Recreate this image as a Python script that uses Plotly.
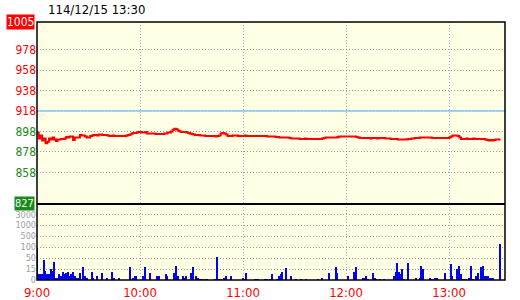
import numpy as np
import plotly.graph_objects as go

# ---------------- data ----------------
title_text = "114/12/15 13:30"
hour_ticks = [0, 60, 120, 180, 240]            # minutes after 9:00
hour_labels = ["9:00", "10:00", "11:00", "12:00", "13:00"]

price_ticks = [978, 958, 938, 918, 898, 878, 858]
price_top = 1005
price_bottom = 827
ref_price = 918

# one value per minute, 9:00 .. 13:30
price = [
    897, 891, 894, 889, 891, 886.5, 888, 891, 890, 892,
    890, 888.5, 890, 890, 890.5, 890.5, 891, 892.5, 892, 893,
    893, 889.5, 892, 892, 892, 894.5, 894, 894, 893, 892,
    892, 893.5, 894, 894.5, 894.5, 894, 895, 895, 894.5, 894.5,
    894.5, 894, 893.5, 893.5, 894, 893.5, 893.5, 893.5, 893.5, 893.5,
    893.5, 893.5, 894, 894.5, 895, 896, 896.5, 896.5, 897, 897.5,
    897.5, 897, 897, 897.5, 896, 896, 896, 896, 896, 895.5,
    895.5, 895.5, 895.5, 895.5, 896, 896, 897, 897, 898, 899.5,
    900.5, 900, 899, 898, 897.5, 897.5, 897.5, 897, 896.5, 896,
    895.5, 895, 894.5, 894.5, 894.5, 894, 894, 894, 893.5, 893.5,
    893.5, 893.5, 893.5, 893.5, 893, 893.5, 894, 896, 896.5, 896,
    895, 893.5, 893.5, 893.5, 894, 894, 894, 893.5, 893.5, 893.5,
    893.5, 894, 893.5, 893.5, 893.5, 893.5, 893.5, 893.5, 893.5, 893.5,
    893.5, 893.5, 893.5, 893.5, 893, 893, 893, 893, 893, 892.5,
    892.5, 892, 892, 892, 892, 892, 892, 891.5, 891, 891,
    891, 891, 891, 890.5, 890.5, 890.5, 891, 890.5, 890.5, 890.5,
    890.5, 890.5, 890.5, 890.5, 890.5, 890.5, 891, 891.5, 892, 892,
    892, 892, 892, 892, 892, 892.5, 893, 893, 893, 893,
    893, 893, 893, 893, 893, 893, 892.5, 892, 891.5, 891.5,
    891.5, 891.5, 891.5, 891.5, 891, 891.5, 891.5, 891.5, 891, 891.5,
    891.5, 891.5, 891.5, 891, 891, 891, 890.5, 890.5, 890.5, 890.5,
    890, 890, 890, 890, 890, 890, 890.5, 890.5, 891, 891,
    891.5, 891.5, 891.5, 892, 892, 892, 892, 892, 892, 892,
    891.5, 891.5, 891.5, 891.5, 891.5, 891.5, 891.5, 891.5, 891.5, 891.5,
    892, 893, 894, 894, 894, 893.5, 892, 890.5, 890.5, 890.5,
    891, 890.5, 890.5, 890.5, 891, 890.5, 890.5, 890.5, 890.5, 890.5,
    890.5, 890, 889.5, 889, 889.5, 889, 889.5, 890, 890, 890,
    890,
]
minutes = list(range(len(price)))

# volume: minute index and lots traded
vol_minute = [
    0, 1, 2, 3, 4, 5, 6, 7, 8, 9, 10, 11, 12, 13, 14, 15, 16, 17, 18, 19,
    20, 21, 22, 23, 24, 25, 27, 28, 29, 32, 33, 35, 38, 41, 44, 45, 48, 54, 56, 57,
    58, 62, 63, 66, 70, 71, 75, 76, 80, 81, 82, 85, 86, 87, 90, 91, 93, 94, 95, 96,
    98, 99, 104, 105, 106, 107, 109, 110, 113, 120, 121, 122, 127, 128, 129, 133, 134, 136, 137, 140,
    141, 142, 143, 145, 148, 151, 154, 157, 164, 166, 170, 174, 175, 181, 185, 186, 190, 191, 192, 193,
    196, 197, 198, 200, 202, 208, 209, 210, 211, 212, 213, 214, 216, 221, 223, 224, 225, 229, 230, 232,
    233, 238, 241, 242, 245, 246, 247, 248, 249, 250, 252, 253, 254, 256, 257, 259, 260, 261, 262, 263,
    264, 265, 266, 270,
]
vol_value = [
    98, 8, 8, 8, 44, 12, 8, 8, 15, 12, 37, 3, 3, 8, 5, 11, 8, 9, 11, 5,
    8, 11, 5, 3, 3, 9, 21, 5, 3, 11, 3, 5, 9, 2, 11, 3, 3, 21, 3, 5,
    5, 5, 21, 10, 5, 5, 8, 5, 9, 26, 5, 6, 3, 5, 10, 21, 5, 2, 1, 1,
    1, 1, 1, 57, 1, 1, 2, 5, 5, 2, 1, 10, 1, 1, 1, 1, 1, 1, 8, 1,
    5, 8, 11, 19, 5, 1, 1, 1, 1, 2, 10, 22, 10, 5, 11, 22, 2, 3, 5, 1,
    10, 3, 1, 1, 1, 5, 11, 35, 11, 8, 15, 1, 35, 2, 3, 25, 15, 3, 1, 2,
    3, 10, 31, 5, 15, 26, 8, 1, 1, 1, 3, 24, 1, 5, 10, 22, 25, 5, 5, 5,
    2, 2, 2, 224,
]
vol_ticks = [0, 15, 50, 100, 500, 1000, 3000]
vol_labels = ["0", "15", "50", "100", "500", "1000", "3000"]

# ---------------- figure ----------------
FONT = "DejaVu Sans Condensed, Liberation Sans Narrow, Liberation Sans, sans-serif"
DOT = "1px,2px"
vol_levels = list(range(len(vol_ticks)))
vol_scaled = np.interp(vol_value, vol_ticks, vol_levels)

split = 76 / 258.0
x_max = 272.6

fig = go.Figure()
fig.add_trace(go.Scatter(
    x=minutes, y=price, mode="lines", line=dict(color="#ff0000", width=2, shape="hv"),
    xaxis="x", yaxis="y", showlegend=False, hoverinfo="skip"))
fig.add_trace(go.Bar(
    x=vol_minute, y=vol_scaled, width=0.8, marker=dict(color="#0000ff", line=dict(width=0)),
    xaxis="x2", yaxis="y2", showlegend=False, hoverinfo="skip"))

def ptxt(v):
    col = "#ff0000" if v >= ref_price else "#1a8a1a"
    return f'<span style="color:{col}">{v}</span>'

fig.update_layout(
    width=520, height=300,
    margin=dict(l=37, r=15, t=22, b=20, autoexpand=False),
    paper_bgcolor="white", plot_bgcolor="#ffffe6",
    bargap=0,
    font=dict(family=FONT, size=12, color="black"),
    xaxis=dict(domain=[0, 1], anchor="y", range=[0, x_max], tickvals=hour_ticks,
               showticklabels=False, ticks="", showgrid=True, gridcolor="#86b8de",
               griddash=DOT, gridwidth=1, zeroline=False, showline=False, automargin=False),
    xaxis2=dict(domain=[0, 1], anchor="y2", range=[0, x_max], tickvals=hour_ticks,
                ticktext=hour_labels, ticks="", showgrid=True, gridcolor="#a4b8bc",
                griddash=DOT, gridwidth=1, zeroline=False, showline=False, automargin=False,
                ticklabelstandoff=3,
                tickfont=dict(family=FONT, size=13, color="#ff0000")),
    yaxis=dict(domain=[split, 1], anchor="x", range=[price_bottom, price_top],
               tickvals=price_ticks, ticktext=[ptxt(v) for v in price_ticks],
               ticks="", showgrid=True, gridcolor="#999999", griddash=DOT, gridwidth=1,
               zeroline=False, showline=False, automargin=False,
               tickfont=dict(family=FONT, size=12)),
    yaxis2=dict(domain=[0, split], anchor="x2", range=[0, 6.95],
                tickvals=vol_levels, ticktext=vol_labels, ticks="",
                showgrid=True, gridcolor="#999999", griddash=DOT, gridwidth=1,
                zeroline=False, showline=False, automargin=False,
                tickfont=dict(family=FONT, size=9, color="#a0a0a0")),
)

shapes = [
    dict(type="line", xref="paper", yref="y", x0=0, x1=1, y0=ref_price, y1=ref_price,
         line=dict(color="#86c6f2", width=1.5)),
    dict(type="rect", xref="paper", yref="paper", x0=0, x1=1, y0=0, y1=1,
         line=dict(color="black", width=1.5)),
    dict(type="line", xref="paper", yref="paper", x0=0, x1=1, y0=split, y1=split,
         line=dict(color="black", width=2)),
]
fig.update_layout(shapes=shapes)

fig.add_annotation(x=0, xref="paper", xanchor="right", xshift=-2, y=price_top, yref="y",
                   yanchor="middle", text=str(price_top), showarrow=False,
                   font=dict(family=FONT, size=12, color="white"), bgcolor="#ff0000", borderpad=0)
fig.add_annotation(x=0, xref="paper", xanchor="right", xshift=-2, y=price_bottom, yref="y",
                   yanchor="middle", yshift=1, text=str(price_bottom), showarrow=False,
                   font=dict(family=FONT, size=11, color="#eaffea"), bgcolor="#1a8a1a", borderpad=0)
fig.add_annotation(x=(46 - 37) / 468.0, xref="paper", xanchor="left",
                   y=1 + (22 - 0) / 258.0, yref="paper", yanchor="top",
                   text=title_text, showarrow=False,
                   font=dict(family=FONT, size=13, color="black"))

fig.write_html("out.html")
